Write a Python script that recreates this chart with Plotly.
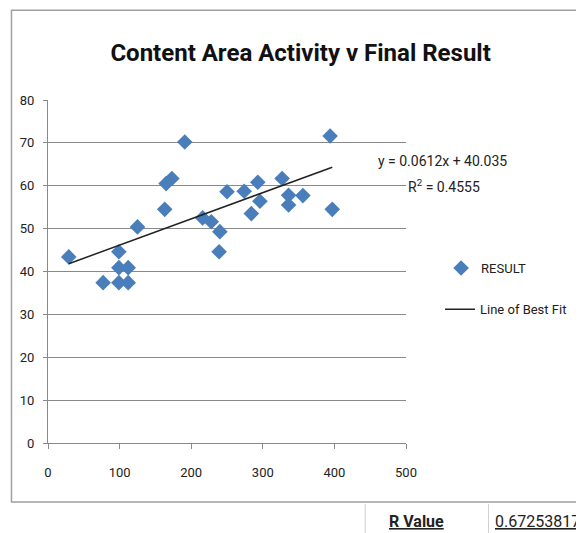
import plotly.graph_objects as go

# scatter data
activity = [29, 77, 99, 99, 112, 99, 112, 125, 163, 165, 173, 191, 216, 228,
            240, 239, 250, 274, 284, 293, 296, 327, 336, 336, 356, 394, 397]
result = [43.4, 37.4, 44.6, 40.9, 40.9, 37.4, 37.4, 50.4, 54.5, 60.5, 61.7, 70.2, 52.5, 51.6,
          49.3, 44.6, 58.6, 58.7, 53.5, 60.8, 56.4, 61.7, 57.8, 55.5, 57.7, 71.6, 54.5]

# trendline as given on the chart
slope = 0.0612
intercept = 40.035
r_squared = 0.4555
r_value = 0.67253817

FONT = "Roboto, sans-serif"
GRID = "#8a8a8a"

line_x = [min(activity), max(activity)]
line_y = [slope * v + intercept for v in line_x]

fig = go.Figure()
fig.add_trace(go.Scatter(
    x=activity, y=result, mode="markers", name="RESULT", showlegend=True,
    marker=dict(symbol="diamond", size=12, color="#4a7ebb"),
    legend="legend"))
fig.add_trace(go.Scatter(
    x=line_x, y=line_y, mode="lines", name="Line of Best Fit", showlegend=True,
    line=dict(color="#222222", width=1.5),
    legend="legend2"))

# page body adds an 8px offset, so the figure is sized 8px smaller
fig.update_layout(
    width=576, height=525,
    margin=dict(l=38, r=178, t=92, b=90),
    showlegend=True,
    paper_bgcolor="white", plot_bgcolor="white",
    font=dict(family=FONT, size=13, color="#222222"),
    title=dict(text="<b>Content Area Activity v Final Result</b>",
               x=0.508, xanchor="center", y=0.915, yanchor="middle",
               font=dict(family=FONT, size=24, color="#111111")),
    legend=dict(x=1.098, y=0.51, xanchor="left", yanchor="middle",
                bgcolor="rgba(0,0,0,0)", font=dict(size=13)),
    legend2=dict(x=1.095, y=0.39, xanchor="left", yanchor="middle",
                 bgcolor="rgba(0,0,0,0)", font=dict(size=13)),
    xaxis=dict(range=[0, 500], dtick=100, showgrid=False, zeroline=False,
               showline=True, linecolor=GRID, linewidth=1,
               ticks="outside", ticklen=5, tickcolor=GRID,
               ticklabelstandoff=12, tickfont=dict(size=13)),
    yaxis=dict(range=[0, 80], dtick=10, showgrid=True, gridcolor=GRID, gridwidth=1,
               zeroline=False, showline=True, linecolor=GRID, linewidth=1,
               ticks="outside", ticklen=4, tickcolor=GRID,
               ticklabelstandoff=6, tickfont=dict(size=13)),
)

# outer chart frame
fig.add_shape(type="rect", xref="paper", yref="paper",
              x0=-0.102, x1=1.7, y0=-0.172, y1=1.262,
              line=dict(color="#a0a0a0", width=1.5), layer="below")

# spreadsheet cell lines below the chart
for px in [365, 489]:
    fig.add_shape(type="line", xref="paper", yref="paper",
                  x0=(px - 46) / 360, x1=(px - 46) / 360,
                  y0=(443 - 504) / 343, y1=(443 - 540) / 343,
                  line=dict(color="#d0d0d0", width=1))

fig.add_annotation(text="y = 0.0612x + 40.035",
                   xref="paper", yref="paper", x=(443 - 46) / 360, y=(443 - 161) / 343,
                   xanchor="center", yanchor="middle", showarrow=False, font=dict(size=14))
fig.add_annotation(text="R<sup>2</sup> = 0.4555",
                   xref="paper", yref="paper", x=(444 - 46) / 360, y=(443 - 186) / 343,
                   xanchor="center", yanchor="middle", showarrow=False, font=dict(size=14))

fig.add_annotation(text="<b><u>R Value</u></b>", xref="paper", yref="paper",
                   x=(417 - 46) / 360, y=(443 - 521) / 343, xanchor="center",
                   yanchor="middle", showarrow=False, font=dict(size=16))
fig.add_annotation(text="<u>%.8f</u>" % r_value, xref="paper", yref="paper",
                   x=(493 - 46) / 360, y=(443 - 521) / 343, xanchor="left",
                   yanchor="middle", showarrow=False, font=dict(size=16))

fig.write_html("out.html")
